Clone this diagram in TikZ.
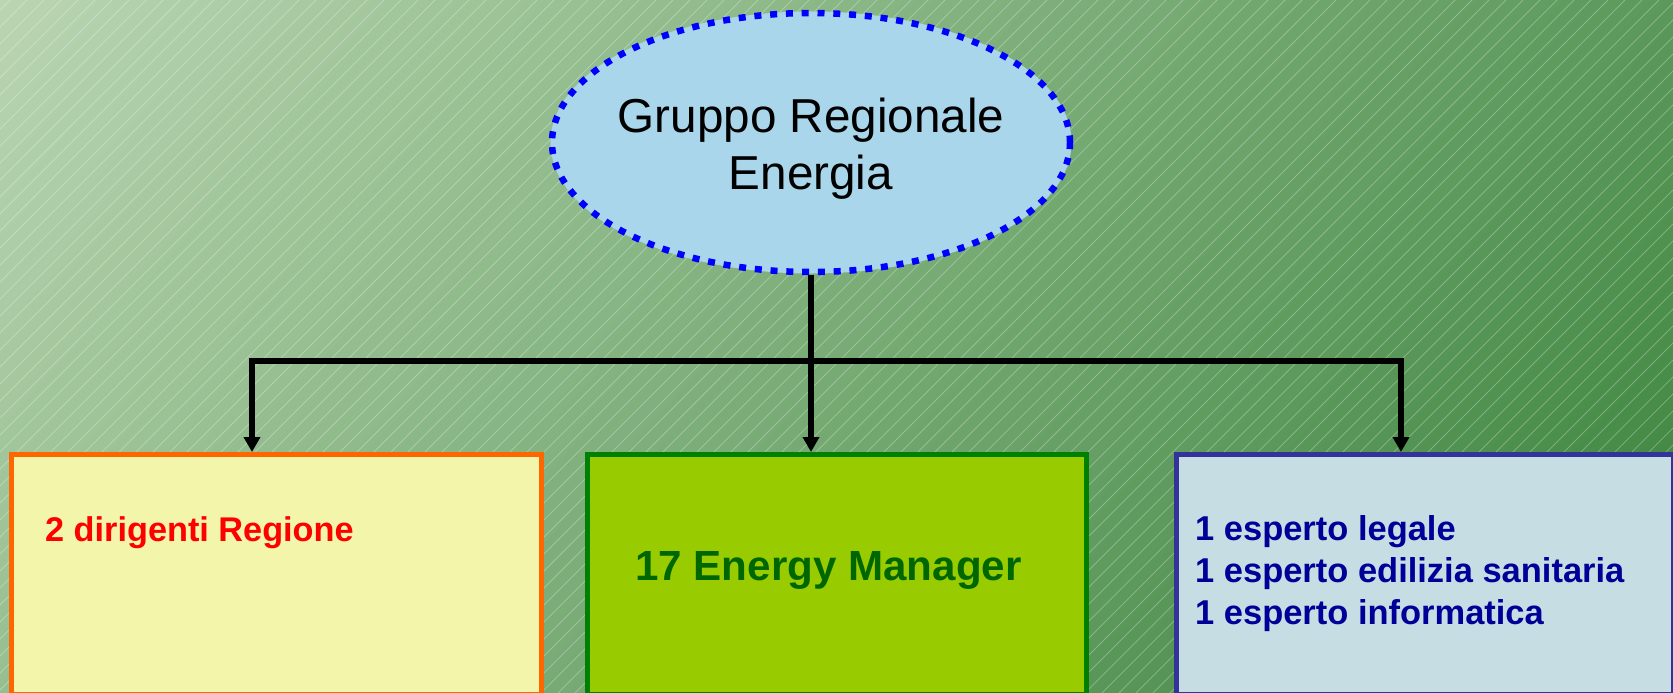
\documentclass[tikz,border=0pt]{standalone}
\usepackage{fontspec}
\setmainfont{Liberation Sans}
\usetikzlibrary{arrows.meta,shapes.geometric}
\definecolor{bgUL}{HTML}{B9D5B1}
\definecolor{bgLR}{HTML}{38823A}
\definecolor{ellfill}{HTML}{A9D6EB}
\definecolor{ellline}{HTML}{0000FF}
\definecolor{lfill}{HTML}{F2F5AA}
\definecolor{lline}{HTML}{FF6600}
\definecolor{ltext}{HTML}{FF0000}
\definecolor{mfill}{HTML}{99CC00}
\definecolor{mline}{HTML}{008000}
\definecolor{mtext}{HTML}{006600}
\definecolor{rfill}{HTML}{C5DDE3}
\definecolor{rline}{HTML}{333399}
\definecolor{rtext}{HTML}{000099}
\tikzset{
  stripe/.style={draw=white, line width=0.8bp, opacity=0.28},
  grpell/.style={ellipse, fill=ellfill, draw=ellline, line width=6.5bp,
    dash pattern=on 7bp off 8.8bp, preaction={draw=ellfill, line width=3bp, solid},
    minimum width=518bp, minimum height=259bp, inner sep=0pt},
  grptext/.style={align=center, inner sep=0pt, text=black,
    font=\fontsize{47.8}{57.4}\selectfont},
  boxbase/.style={rectangle, line width=5bp, anchor=north west, minimum height=240bp, inner sep=0pt},
  boxL/.style={boxbase, fill=lfill, draw=lline, minimum width=530bp},
  boxM/.style={boxbase, fill=mfill, draw=mline, minimum width=499bp},
  boxR/.style={boxbase, fill=rfill, draw=rline, minimum width=497bp},
  txtL/.style={anchor=base west, inner sep=0pt, text=ltext, font=\fontsize{34.4}{41}\selectfont\bfseries},
  txtM/.style={anchor=base west, inner sep=0pt, text=mtext, font=\fontsize{42.3}{50}\selectfont\bfseries},
  txtR/.style={anchor=base west, inner sep=0pt, text=rtext, font=\fontsize{34.6}{41}\selectfont\bfseries},
  arr/.style={draw=black, line width=6bp, line join=miter, -{Triangle[width=16bp,length=15bp]}}
}
\begin{document}
\begin{tikzpicture}[x=1bp,y=-1bp]
\useasboundingbox (0,0) rectangle (1673,693);
\clip (0,0) rectangle (1673,693);
% diagonal linear gradient built from thin bands
\begin{scope}[rotate=-42]
\foreach \k in {0,...,159} {
  \pgfmathsetmacro\p{100*\k/159}
  \pgfmathsetmacro\sa{\k*10.66875}
  \pgfmathsetmacro\sb{(\k+1)*10.66875+1}
  \fill[bgLR!\p!bgUL] (\sa,-1900) rectangle (\sb,1900);
}
\fill[bgLR] (1707,-1900) rectangle (2200,1900);
\end{scope}
\foreach \i in {-700,-683,...,1690} \draw[stripe] (\i,693) -- (\i+693,0);

\node[grpell] (grp) at (811,142.5) {};
\node[grptext] (grpt) at (811,149) {Gruppo Regionale\\Energia};

\node[boxL] (lt) at (9,452) {};
\node[boxM] (mid) at (585,452) {};
\node[boxR] (rt) at (1174,452) {};

\node[txtL] (t1) at (45,541) {2 dirigenti Regione};
\node[txtM] (t2) at (635,580) {17 Energy Manager};
\node[txtR] (t3a) at (1195,540) {1 esperto legale};
\node[txtR] (t3b) at (1195,582) {1 esperto edilizia sanitaria};
\node[txtR] (t3c) at (1195,624) {1 esperto informatica};

\coordinate (hub) at (811,361);
\coordinate (barL) at (252,361);
\coordinate (barR) at (1401,361);
\draw[arr] (grp.south) -- (grp.south |- mid.north);
\draw[arr] (hub) -- (barL) -- (barL |- lt.north);
\draw[arr] (hub) -- (barR) -- (barR |- rt.north);
\end{tikzpicture}
\end{document}
